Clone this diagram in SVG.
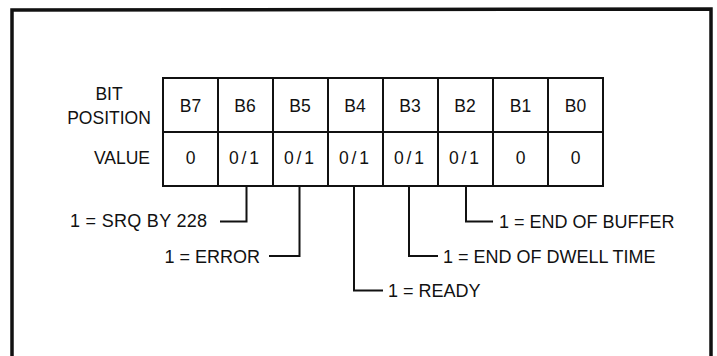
<svg xmlns="http://www.w3.org/2000/svg" width="717" height="356" viewBox="0 0 717 356">
<style>
  text { font-family: "Liberation Sans", Arial, Helvetica, sans-serif; fill: #111; }
  .t { font-size: 17.5px; text-anchor: middle; }
  .lab { font-size: 18px; }
  .cell { fill: #fff; stroke: #111; stroke-width: 2; }
  .conn { fill: none; stroke: #111; stroke-width: 2; }
  .frame { fill: none; stroke: #111; stroke-width: 3.5; }
</style>
<rect x="0" y="0" width="717" height="356" fill="#fff"/>
<path class="frame" d="M12,357 L12,10 L711,9 L711,357"/>

<g id="row-labels">
  <text class="t" x="109" y="100">BIT</text>
  <text class="t" x="109" y="124">POSITION</text>
  <text class="t" x="150" y="164" style="text-anchor:end">VALUE</text>
</g>

<g id="table">
  <rect class="cell" x="163" y="78" width="440" height="108"/>
  <line class="conn" x1="163" y1="132" x2="603" y2="132"/>
  <line class="conn" x1="218" y1="78" x2="218" y2="186"/>
  <line class="conn" x1="273" y1="78" x2="273" y2="186"/>
  <line class="conn" x1="328" y1="78" x2="328" y2="186"/>
  <line class="conn" x1="383" y1="78" x2="383" y2="186"/>
  <line class="conn" x1="438" y1="78" x2="438" y2="186"/>
  <line class="conn" x1="493" y1="78" x2="493" y2="186"/>
  <line class="conn" x1="548" y1="78" x2="548" y2="186"/>
</g>

<g id="bit-b7"><text class="t" x="190.5" y="111.5">B7</text><text class="t" x="190.5" y="164">0</text></g>
<g id="bit-b6"><text class="t" x="245" y="111.5">B6</text><text class="t" x="244" y="164" textLength="30">0/1</text></g>
<g id="bit-b5"><text class="t" x="300" y="111.5">B5</text><text class="t" x="299" y="164" textLength="30">0/1</text></g>
<g id="bit-b4"><text class="t" x="355" y="111.5">B4</text><text class="t" x="354" y="164" textLength="30">0/1</text></g>
<g id="bit-b3"><text class="t" x="410" y="111.5">B3</text><text class="t" x="409" y="164" textLength="30">0/1</text></g>
<g id="bit-b2"><text class="t" x="465" y="111.5">B2</text><text class="t" x="464" y="164" textLength="30">0/1</text></g>
<g id="bit-b1"><text class="t" x="520.5" y="111.5">B1</text><text class="t" x="520.5" y="164">0</text></g>
<g id="bit-b0"><text class="t" x="575.5" y="111.5">B0</text><text class="t" x="575.5" y="164">0</text></g>

<g id="connectors">
  <polyline class="conn" points="246.5,186 246.5,221.5 220,221.5"/>
  <polyline class="conn" points="299.5,186 299.5,256 269,256"/>
  <polyline class="conn" points="354,186 354,290.5 383,290.5"/>
  <polyline class="conn" points="409,186 409,256 438,256"/>
  <polyline class="conn" points="466,186 466,221.5 493,221.5"/>
</g>

<g id="label-srq"><text class="lab" x="70" y="226.5" textLength="137">1 = SRQ BY 228</text></g>
<g id="label-error"><text class="lab" x="260" y="262.5" text-anchor="end">1 = ERROR</text></g>
<g id="label-ready"><text class="lab" x="388" y="297">1 = READY</text></g>
<g id="label-dwell"><text class="lab" x="443" y="262.5">1 = END OF DWELL TIME</text></g>
<g id="label-buffer"><text class="lab" x="499" y="228">1 = END OF BUFFER</text></g>
</svg>
